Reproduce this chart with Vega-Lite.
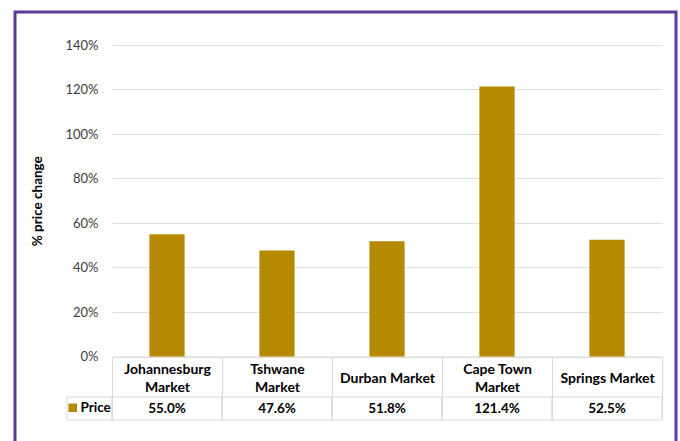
{
  "$schema": "https://vega.github.io/schema/vega-lite/v6.json",
  "width": 661,
  "height": 440,
  "autosize": "none",
  "padding": {"left": 15, "top": 12, "right": 4, "bottom": -11},
  "background": "white",
  "config": {
    "font": "Lato",
    "view": {"stroke": "#5b3b9a", "strokeWidth": 3}
  },
  "data": {
    "values": [
      {"market": "Johannesburg\nMarket", "series": "Price", "change": 0.550},
      {"market": "Tshwane\nMarket", "series": "Price", "change": 0.476},
      {"market": "Durban Market", "series": "Price", "change": 0.518},
      {"market": "Cape Town\nMarket", "series": "Price", "change": 1.214},
      {"market": "Springs Market", "series": "Price", "change": 0.525}
    ]
  },
  "resolve": {"scale": {"x": "independent", "y": "independent"}},
  "layer": [
    {
      "mark": {"type": "bar", "width": {"band": 0.32}},
      "encoding": {
        "x": {
          "field": "market", "type": "nominal", "sort": null,
          "scale": {"range": [97, 647], "paddingInner": 0, "paddingOuter": 0},
          "axis": {
            "orient": "bottom", "offset": -95.5, "title": null, "labelAngle": 0,
            "domainColor": "#d9d9d9", "tickColor": "#d9d9d9", "tickSize": 63, "tickBand": "extent",
            "labelExpr": "split(datum.label, '\\n')", "labelBaseline": "middle",
            "labelPadding": {"condition": {"test": "indexof(datum.label, '\\n') >= 0", "value": -50}, "value": -41.5},
            "labelFontWeight": "bold", "labelFontSize": 14, "labelColor": "#000000", "labelLineHeight": 18,
            "labelLimit": 0, "labelOverlap": false, "labelBound": false, "grid": false
          }
        },
        "y": {
          "field": "change", "type": "quantitative",
          "scale": {"domain": [0, 1.4], "range": [344.5, 33], "nice": false, "zero": true},
          "axis": {
            "orient": "left", "offset": -97, "values": [0, 0.2, 0.4, 0.6, 0.8, 1.0, 1.2, 1.4],
            "format": ".0%", "title": "% price change", "ticks": false, "domain": false,
            "labelPadding": 14, "labelFontSize": 13, "labelColor": "#404040",
            "gridColor": "#dedede", "gridWidth": 1,
            "titleFontSize": 13.5, "titleFontWeight": "bold", "titleColor": "#000000",
            "titleX": -75, "titleBaseline": "middle"
          }
        },
        "color": {
          "datum": "Price", "type": "nominal",
          "scale": {"range": ["#b58a00"]},
          "legend": {
            "orient": "none", "legendX": 51, "legendY": 389, "title": null,
            "symbolType": "square", "symbolSize": 72, "symbolStrokeWidth": 0,
            "labelFontWeight": "bold", "labelFontSize": 13.5, "labelColor": "#000000",
            "labelOffset": 1, "padding": 0
          }
        }
      }
    },
    {
      "mark": {"type": "rect", "fillOpacity": 0, "stroke": "#d9d9d9", "strokeWidth": 1},
      "encoding": {
        "x": {"field": "market", "type": "nominal", "sort": null,
              "scale": {"range": [97, 647], "paddingInner": 0, "paddingOuter": 0}, "axis": null},
        "y": {"field": "series", "type": "nominal",
              "scale": {"range": [385, 408], "paddingInner": 0, "paddingOuter": 0}, "axis": null}
      }
    },
    {
      "mark": {"type": "text", "fontWeight": "bold", "fontSize": 13.5, "color": "#000000", "baseline": "middle"},
      "encoding": {
        "x": {"field": "market", "type": "nominal", "sort": null,
              "scale": {"range": [97, 647], "paddingInner": 0, "paddingOuter": 0}, "axis": null},
        "y": {"field": "series", "type": "nominal",
              "scale": {"range": [385, 408], "paddingInner": 0, "paddingOuter": 0}, "axis": null},
        "text": {"field": "change", "type": "quantitative", "format": ".1%"}
      }
    },
    {
      "transform": [{"aggregate": [], "groupby": ["series"]}],
      "mark": {"type": "rect", "fillOpacity": 0, "stroke": "#d9d9d9", "strokeWidth": 1},
      "encoding": {
        "x": {"field": "series", "type": "nominal",
              "scale": {"range": [52, 97], "paddingInner": 0, "paddingOuter": 0}, "axis": null},
        "y": {"field": "series", "type": "nominal",
              "scale": {"range": [385, 408], "paddingInner": 0, "paddingOuter": 0}, "axis": null}
      }
    }
  ]
}
